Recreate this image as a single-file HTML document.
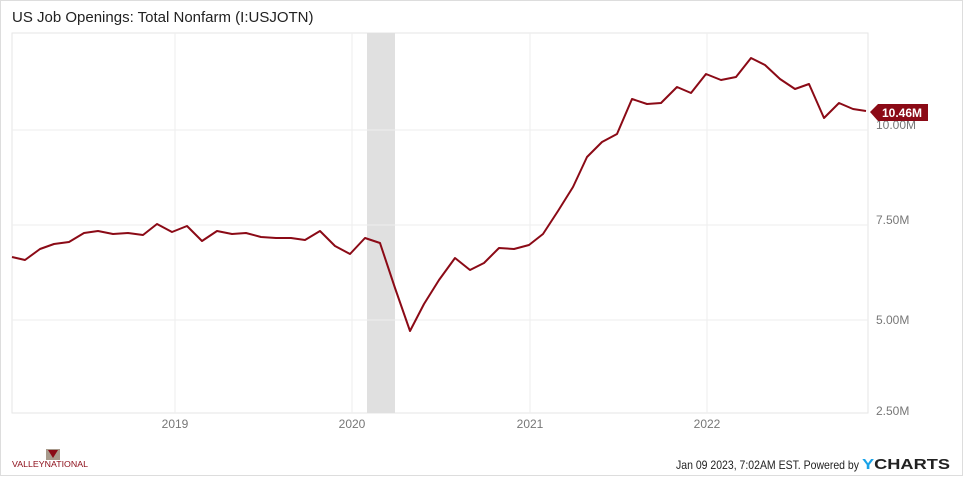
<!DOCTYPE html>
<html><head><style>
body{margin:0;background:#fff;}
svg text{font-family:"Liberation Sans",sans-serif;}
</style></head><body>
<svg width="963" height="476" xmlns="http://www.w3.org/2000/svg">
<rect x="0.5" y="0.5" width="962" height="475" fill="#fff" stroke="#ddd"/>
<text x="12" y="22" font-size="15" fill="#222">US Job Openings: Total Nonfarm (I:USJOTN)</text>
<rect x="12" y="33" width="856" height="380" fill="#fff" stroke="#e6e6e6"/>
<rect x="367" y="33" width="28" height="380" fill="#e0e0e0"/>
<g stroke="#eeeeee" stroke-width="1">
<line x1="175" y1="33" x2="175" y2="413"/><line x1="352" y1="33" x2="352" y2="413"/>
<line x1="530" y1="33" x2="530" y2="413"/><line x1="707" y1="33" x2="707" y2="413"/>
<line x1="12" y1="130" x2="868" y2="130"/><line x1="12" y1="225" x2="868" y2="225"/>
<line x1="12" y1="320" x2="868" y2="320"/>
</g>
<g font-size="12" fill="#777">
<text x="876" y="129">10.00M</text><text x="876" y="224">7.50M</text>
<text x="876" y="324">5.00M</text><text x="876" y="415">2.50M</text>
<text x="175" y="428" text-anchor="middle">2019</text><text x="352" y="428" text-anchor="middle">2020</text>
<text x="530" y="428" text-anchor="middle">2021</text><text x="707" y="428" text-anchor="middle">2022</text>
</g>
<polyline fill="none" stroke="#8b0a16" stroke-width="2" stroke-linejoin="round" points="12,257 25,260 40,249 54,244 69,242 84,233 98,231 113,234 128,233 143,235 157,224 172,232 187,226 202,241 217,231 232,234 246,233 261,237 276,238 291,238 305,240 320,231 335,246 350,254 365,238 380,243 395,288 410,331 424,304 439,280 455,258 470,270 484,263 499,248 514,249 529,245 543,234 558,211 573,187 587,157 602,142 617,134 632,99 647,104 661,103 677,87 691,93 706,74 721,80 736,77 751,58 765,65 780,79 795,89 809,84 824,118 839,103 853,109 866,111"/>
<polygon points="870,112 878,104 928,104 928,121 878,121" fill="#8b0a16"/>
<text x="882" y="117" font-size="12" font-weight="bold" fill="#fff">10.46M</text>
<rect x="46" y="449" width="14" height="11" fill="#a89a8c"/>
<polygon points="48,450 58,450 53,458" fill="#8b0a16"/>
<text x="12" y="467" font-size="8" fill="#8b0a16" font-family="Liberation Serif" textLength="76" lengthAdjust="spacingAndGlyphs">VALLEYNATIONAL</text>
<text x="676" y="469" font-size="12" fill="#222" textLength="183" lengthAdjust="spacingAndGlyphs">Jan 09 2023, 7:02AM EST. Powered by</text>
<text x="862" y="469" font-size="15" font-weight="bold" fill="#222" textLength="88" lengthAdjust="spacingAndGlyphs"><tspan fill="#1aa3e8">Y</tspan>CHARTS</text>
</svg>
</body></html>
